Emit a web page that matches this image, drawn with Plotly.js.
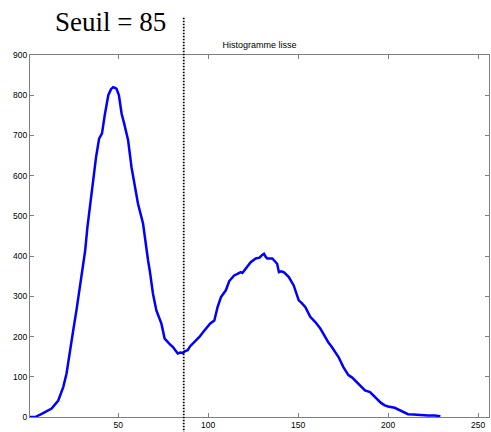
<!DOCTYPE html>
<html>
<head>
<meta charset="utf-8">
<script src="https://cdn.plot.ly/plotly-3.0.1.min.js"></script>
<style>html,body{margin:0;padding:0;background:#fff;}#plot{width:491px;height:432px;}</style>
</head>
<body>
<div id="plot"></div>
<script>
const greyLevel = [1,3.9,7.5,13,16.7,19.5,21.3,23.2,25,26.8,28.9,31.6,32.9,34.4,36.2,37.7,39.4,41,42.5,44.5,46,47.2,48.3,49.1,50.4,51.9,53.3,54.6,55.5,57.4,59.2,61.0,63.8,65.5,66.6,67.5,69.3,71.2,74,75.8,77,78.5,80.4,83.1,84.5,85.9,87.2,88.6,90,91.4,93.2,95.1,97,98.8,101,103.4,105.2,107.1,109.8,111.7,114.4,116,118.1,119,120.9,122.5,123.6,126.4,128.5,130,131,132,132.8,135.6,137,138.3,139.3,140.5,142,144.8,147.5,150.3,152,154,156.7,159.5,162.3,165,166.8,168.7,172.4,175.1,177.9,180,182.5,185,187.1,189.9,192,194.4,196,198.1,200,203.6,206.4,208.5,211,214,218.3,222,225.7,228.5,229];
const counts = [0,0,8,21,41,75,108,158,215,265,332,412,472,528,588,646,692,705,750,800,815,820,818,816,800,754,730,708,688,621,580,530,481,420,389,365,307,265,232,195,188,182,174,158,160,159,164,166,176,182,190,199,210,220,232,240,273,298,315,338,352,355,360,358,369,376,385,394,396,403,406,398,394,394,388,381,360,362,360,348,327,290,283,273,249,236,220,199,185,174,149,124,104,98,87,77,66,62,52,41,35,29,26,23,17,12,7,6,4,4,4,2.5,2];
const seuilLine = 86.4;
const seuilLabel = 'Seuil = 85';
const chartTitle = 'Histogramme lisse';
const xTicks = [50,100,150,200,250];
const yTicks = [0,100,200,300,400,500,600,700,800,900];

const axisCommon = {
  showgrid:false, zeroline:false, showline:true, linecolor:'#7f7f7f', linewidth:1,
  mirror:'ticks', ticks:'inside', ticklen:4, tickcolor:'#7f7f7f', tickwidth:1,
  tickfont:{family:'Arial, Liberation Sans, sans-serif', size:8.5, color:'#000'}
};

Plotly.newPlot('plot', [{
  x: greyLevel, y: counts, type:'scatter', mode:'lines',
  line:{color:'#0000ff', width:2.5}, hoverinfo:'skip'
}], {
  width:491, height:432,
  margin:{l:30, r:2, t:55, b:15},
  paper_bgcolor:'#fff', plot_bgcolor:'#fff',
  showlegend:false,
  title:{text:chartTitle, font:{family:'Arial, Liberation Sans, sans-serif', size:9, color:'#000'},
    x:0.5, xref:'paper', y:1-45/432, yref:'container', yanchor:'middle'},
  xaxis:Object.assign({}, axisCommon, {range:[1,256], tickvals:xTicks, ticktext:xTicks.map(String)}),
  yaxis:Object.assign({}, axisCommon, {range:[0,900], tickvals:yTicks, ticktext:yTicks.map(String)}),
  shapes:[{type:'line', xref:'x', yref:'paper', x0:seuilLine, x1:seuilLine, y0:-0.045, y1:1.106,
    line:{color:'#000', width:1.8, dash:'1.5px,1.5px'}}],
  annotations:[{text:seuilLabel, xref:'paper', yref:'paper', x:(110-30)/459, y:(416.7-22)/362, xanchor:'center', yanchor:'middle',
    showarrow:false, font:{family:'Liberation Serif, Times New Roman, serif', size:27, color:'#000'}}]
}, {staticPlot:true});
</script>
</body>
</html>
